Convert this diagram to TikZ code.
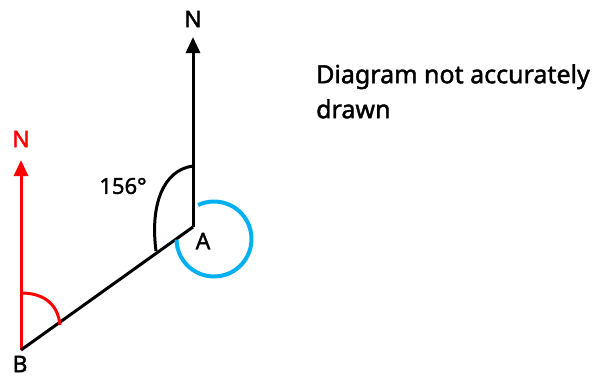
\documentclass[tikz,border=0pt]{standalone}
\usepackage{fontspec}
\setmainfont{Noto Sans}[FakeBold=1.6]
\newfontfamily\labelfont{Noto Sans}[FakeBold=1.6]
\usetikzlibrary{arrows.meta}
\definecolor{bearingred}{HTML}{FF0000}
\definecolor{reflexblue}{HTML}{00B0F0}

\begin{document}
\begin{tikzpicture}[x=1pt, y=-1pt,
  leg/.style={line width=3pt, black},
  northline/.style={line width=3pt, -{Triangle[length=16pt,width=14pt]}},
  lbl/.style={font=\labelfont\fontsize{23}{27}\selectfont, inner sep=0pt},
  note/.style={font=\labelfont\fontsize{25}{34}\selectfont, align=left, inner sep=0pt, anchor=north west}
]
  \useasboundingbox (0,0) rectangle (596,378);
  \coordinate (A) at (193,227);
  \coordinate (B) at (21,350);
  \coordinate (NA) at (193,37);
  \coordinate (NB) at (21,160);
  % north lines and the leg
  \draw[northline] (A) -- (NA);
  \draw[northline, bearingred] (B) -- (NB);
  \draw[leg] (B) -- (A);
  % angles
  \draw[leg] (193,166) .. controls (163,170) and (150,205) .. (156,251);
  \draw[bearingred, line width=3pt] (21,293) .. controls (45,293) and (58,305) .. (60,325);
  \draw[reflexblue, line width=4pt] (214,239) ++(-115:37.5) arc[start angle=-115, end angle=179, radius=37.5];
  % labels
  \node[lbl] (nA) at (193,19) {N};
  \node[lbl, text=bearingred] (nB) at (21,139) {N};
  \node[lbl] (lA) at (203,241) {A};
  \node[lbl] (lB) at (20,364) {B};
  \node[lbl, font=\labelfont\fontsize{22}{26}\selectfont] (ang) at (123,186) {156°};
  \node[note] (txt) at (316,64) {Diagram not accurately\\[1pt]drawn};
\end{tikzpicture}
\end{document}
